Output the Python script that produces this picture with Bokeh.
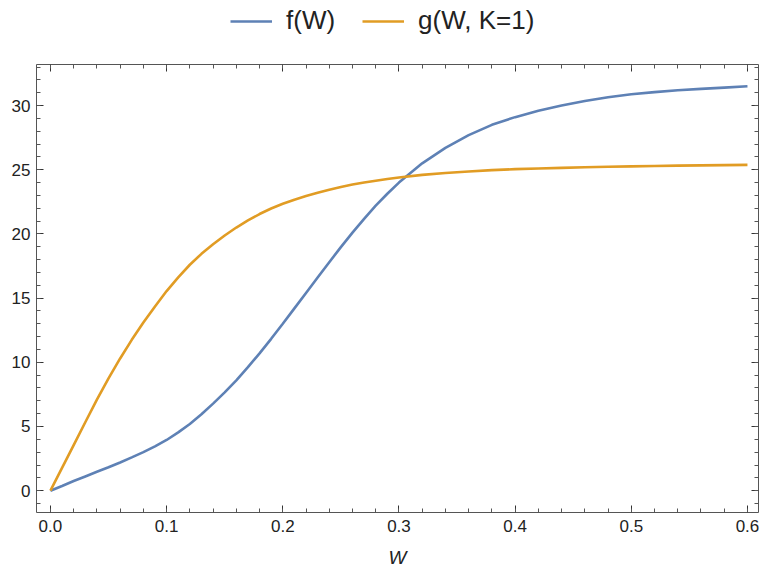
from bokeh.plotting import figure
from bokeh.layouts import column
from bokeh.models import (LinearAxis, FixedTicker, NumeralTickFormatter, Range1d,
                          Legend, LegendItem, CustomJSTickFormatter)
from bokeh.embed import file_html
from bokeh.resources import INLINE

W = [0.0, 0.01, 0.02, 0.03, 0.04, 0.05, 0.06, 0.07, 0.08, 0.09, 0.10, 0.11, 0.12,
     0.13, 0.14, 0.15, 0.16, 0.17, 0.18, 0.19, 0.20, 0.21, 0.22, 0.23, 0.24, 0.25,
     0.26, 0.27, 0.28, 0.29, 0.30, 0.32, 0.34, 0.36, 0.38, 0.40, 0.42, 0.44, 0.46,
     0.48, 0.50, 0.52, 0.54, 0.56, 0.58, 0.60]
f_vals = [0.0, 0.37, 0.75, 1.11, 1.47, 1.83, 2.2, 2.59, 3.0, 3.45, 3.95, 4.54, 5.2,
          5.95, 6.78, 7.66, 8.6, 9.62, 10.7, 11.83, 13.0, 14.2, 15.4, 16.6, 17.8,
          18.97, 20.1, 21.18, 22.2, 23.13, 24.0, 25.5, 26.7, 27.7, 28.5, 29.1, 29.6,
          30.0, 30.35, 30.65, 30.88, 31.05, 31.2, 31.3, 31.4, 31.5]
g_vals = [0.0, 1.78, 3.55, 5.33, 7.1, 8.75, 10.3, 11.75, 13.1, 14.35, 15.55, 16.62,
          17.6, 18.45, 19.2, 19.88, 20.5, 21.05, 21.55, 21.98, 22.35, 22.67, 22.95,
          23.21, 23.45, 23.66, 23.85, 24.01, 24.15, 24.28, 24.4, 24.6, 24.75, 24.87,
          24.97, 25.05, 25.1, 25.15, 25.19, 25.23, 25.26, 25.29, 25.32, 25.34, 25.36,
          25.38]

x_major = [0.0, 0.1, 0.2, 0.3, 0.4, 0.5, 0.6]
x_minor = [round(i * 0.02, 2) for i in range(-1, 31)]
y_major = [0, 5, 10, 15, 20, 25, 30]
y_minor = list(range(-1, 34))

labels = ["f(W)", "g(W, K=1)"]
colors = ["#5E81B5", "#E19C24"]

FONT = "Liberation Sans"

p = figure(frame_width=722, frame_height=448, output_backend="svg",
           toolbar_location=None,
           x_range=Range1d(-0.012, 0.6095), y_range=Range1d(-1.7, 33.2),
           min_border_left=36, min_border_right=2, min_border_top=24,
           min_border_bottom=54)
p.xgrid.visible = False
p.ygrid.visible = False
p.outline_line_color = None
p.background_fill_color = "white"

p.line(W, f_vals, line_color=colors[0], line_width=2.6)
p.line(W, g_vals, line_color=colors[1], line_width=2.6)

def style(ax, ticks, minor, show_labels):
    ax.ticker = FixedTicker(ticks=ticks, minor_ticks=minor)
    ax.major_tick_in = 7
    ax.major_tick_out = 0
    ax.minor_tick_in = 4
    ax.minor_tick_out = 0
    ax.axis_line_color = "#555555"
    ax.major_tick_line_color = "#333333"
    ax.minor_tick_line_color = "#555555"
    ax.major_label_text_font = FONT
    ax.major_label_text_font_size = "17px"
    ax.major_label_text_color = "#222222"
    if not show_labels:
        ax.formatter = CustomJSTickFormatter(code="return ''")
        ax.major_label_standoff = 0

xa = p.xaxis[0]
style(xa, x_major, x_minor, True)
xa.formatter = NumeralTickFormatter(format="0.0")
xa.major_label_standoff = 7
xa.axis_label = "W"
xa.axis_label_text_font = FONT
xa.axis_label_text_font_style = "italic"
xa.axis_label_text_font_size = "19px"
xa.axis_label_text_color = "#222222"
xa.axis_label_standoff = 12

ya = p.yaxis[0]
style(ya, y_major, y_minor, True)
ya.major_label_standoff = 6

top = LinearAxis()
style(top, x_major, x_minor, False)
p.add_layout(top, "above")
right = LinearAxis()
style(right, y_major, y_minor, False)
p.add_layout(right, "right")

# legend strip above the plot (its lines lie outside its view range)
lg = figure(width=760, height=40, output_backend="svg", toolbar_location=None,
            x_axis_type=None, y_axis_type=None,
            x_range=Range1d(0, 1), y_range=Range1d(100, 101),
            min_border=0, outline_line_color=None)
lg.xgrid.visible = False
lg.ygrid.visible = False
l1 = lg.line(W, f_vals, line_color=colors[0], line_width=2.6)
l2 = lg.line(W, g_vals, line_color=colors[1], line_width=2.6)
legend = Legend(items=[LegendItem(label=labels[0], renderers=[l1]),
                       LegendItem(label=labels[1], renderers=[l2])],
                orientation="horizontal", location=(194, 4),
                label_text_font=FONT, label_text_font_size="26px",
                label_text_color="#222222",
                glyph_width=42, glyph_height=20, label_standoff=14, spacing=27,
                border_line_color=None, background_fill_alpha=0,
                padding=0, margin=0)
lg.add_layout(legend, "center")

layout = column(lg, p, spacing=0)
open("out.html", "w").write(file_html(layout, INLINE))
